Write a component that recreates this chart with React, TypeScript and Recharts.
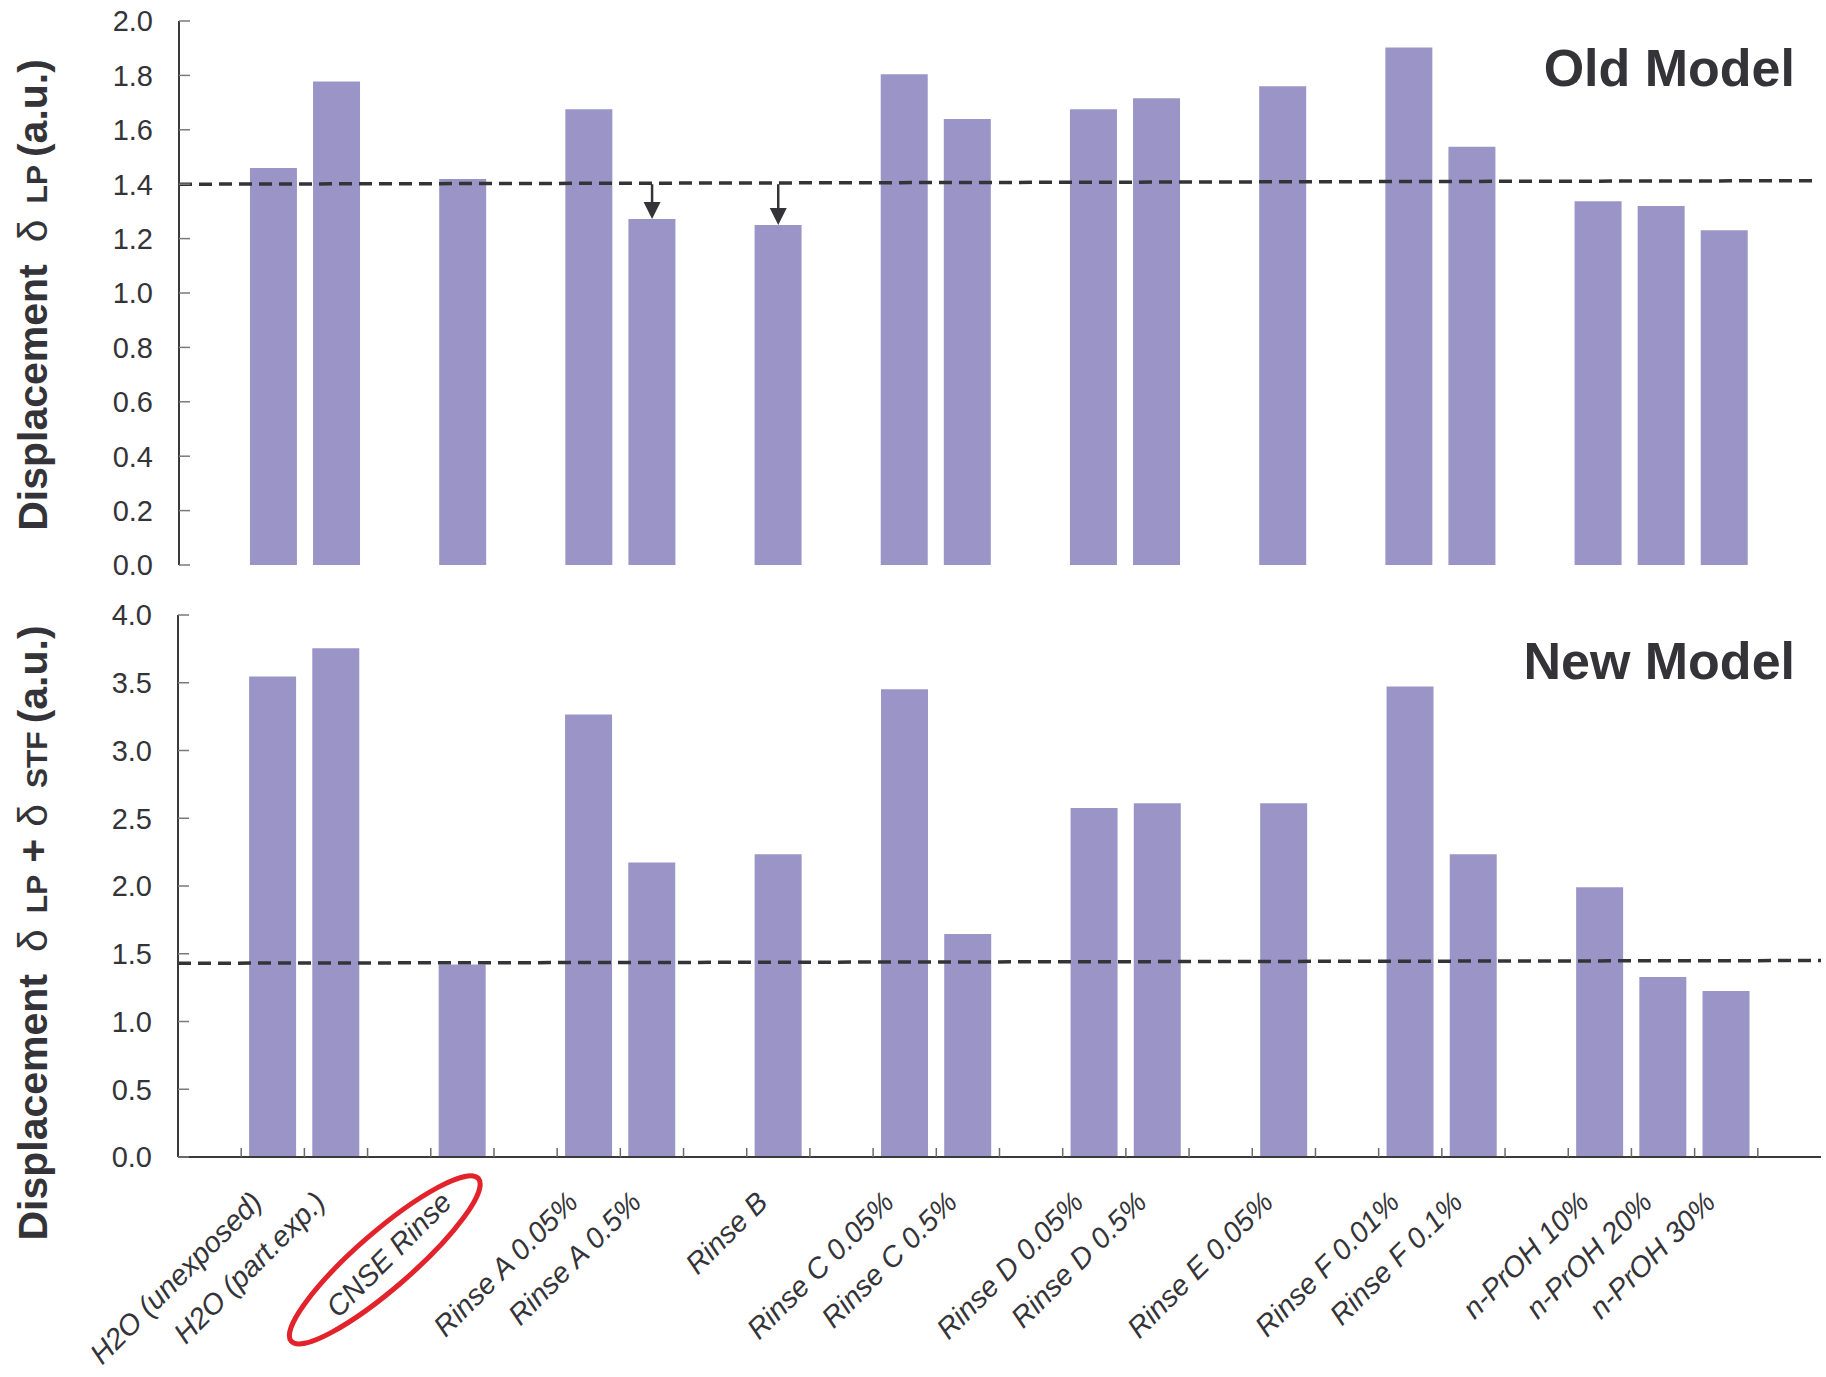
import React from "react";
import { Bar, BarChart, ReferenceDot, ReferenceLine, XAxis, YAxis } from "recharts";

// slots along the x axis, blanks are the gaps between groups
const categories = [
  "", "H2O (unexposed)", "H2O (part.exp.)", "", "CNSE Rinse", "",
  "Rinse A 0.05%", "Rinse A 0.5%", "", "Rinse B", "",
  "Rinse C 0.05%", "Rinse C 0.5%", "", "Rinse D 0.05%", "Rinse D 0.5%", "",
  "Rinse E 0.05%", "", "Rinse F 0.01%", "Rinse F 0.1%", "",
  "n-PrOH 10%", "n-PrOH 20%", "n-PrOH 30%", "",
];

const oldModel = [
  null, 1.46, 1.778, null, 1.419, null,
  1.676, 1.272, null, 1.25, null,
  1.804, 1.64, null, 1.676, 1.716, null,
  1.76, null, 1.903, 1.538, null,
  1.337, 1.32, 1.231, null,
];

const newModel = [
  null, 3.546, 3.754, null, 1.42, null,
  3.266, 2.174, null, 2.234, null,
  3.452, 1.646, null, 2.575, 2.61, null,
  2.61, null, 3.472, 2.234, null,
  1.99, 1.328, 1.225, null,
];

const oldTicks = [0, 0.2, 0.4, 0.6, 0.8, 1.0, 1.2, 1.4, 1.6, 1.8, 2.0];
const newTicks = [0, 0.5, 1.0, 1.5, 2.0, 2.5, 3.0, 3.5, 4.0];

// dashed reference level, value at left and right end of the plot
const oldLevel = [1.4, 1.413];
const newLevel = [1.43, 1.45];

const arrowTargets = ["Rinse A 0.5%", "Rinse B"];
const highlighted = "CNSE Rinse";

const W = 1826;
const BAR = "#9b95c7";
const INK = "#343438";
const FONT = '"Liberation Sans", Arial, Helvetica, sans-serif';

const rows = categories.map((name, i) => ({
  id: `c${i}`,
  name,
  slot: i + 0.5,
  oldModel: oldModel[i],
  newModel: newModel[i],
}));

const idOf = (name: string) => rows.find((r) => r.name === name)!.id;
const nameOf = (id: string) => rows.find((r) => r.id === id)?.name ?? "";

function YTick({ x, y, payload }: any) {
  return (
    <g>
      <line x1={x + 26} x2={x + 37} y1={y} y2={y} stroke="#7a7a7a" strokeWidth={1.5} />
      <text x={x} y={y} dy="0.36em" textAnchor="end" fontSize={29} fill={INK} fontFamily={FONT}>
        {Number(payload.value).toFixed(1)}
      </text>
    </g>
  );
}

function makeXTick(slotW: number, showLabels: boolean) {
  return ({ x, y, payload, index }: any) => {
    const label = nameOf(payload.value);
    return (
      <g>
        {index > 0 && (
          <line x1={x - slotW / 2} x2={x - slotW / 2} y1={y} y2={y - 9} stroke="#6a6a6a" strokeWidth={1.5} />
        )}
        {showLabels && label && (
          <g transform={`translate(${x - 9},${y + 47}) rotate(-45)`}>
            {label === highlighted && (
              <ellipse
                cx={-88}
                cy={-9}
                rx={124}
                ry={28}
                transform="rotate(4 -88 -9)"
                fill="none"
                stroke="#e3232b"
                strokeWidth={5}
              />
            )}
            <text textAnchor="end" fontSize={29} fontStyle="italic" fill={INK} fontFamily={FONT}>
              {label}
            </text>
          </g>
        )}
      </g>
    );
  };
}

function AxisTitle({ viewBox, sub, shift = 0 }: any) {
  const cy = viewBox.y + viewBox.height / 2 + shift;
  const bx = 47;
  return (
    <text
      transform={`translate(${bx},${cy}) rotate(-90)`}
      textAnchor="middle"
      fill={INK}
      fontFamily={FONT}
      fontWeight="bold"
      fontSize={41}
    >
      <tspan>Displacement</tspan>
      <tspan dx={22} fontWeight="normal">δ</tspan>
      <tspan dx={16} fontSize={30}>LP</tspan>
      {sub && (
        <>
          <tspan dx={12}>+</tspan>
          <tspan dx={12} fontWeight="normal">δ</tspan>
          <tspan dx={16} fontSize={30}>STF</tspan>
        </>
      )}
      <tspan dx={8}>(a.u.)</tspan>
    </text>
  );
}

function Arrow({ cx, cy }: any) {
  return <path d={`M${cx - 8.5},${cy - 17} L${cx + 8.5},${cy - 17} L${cx},${cy} Z`} fill={INK} />;
}

function ModelTag({ text, baseline }: { text: string; baseline: number }) {
  return (
    <svg width={W} height={120} style={{ position: "absolute", left: 0, top: 0, pointerEvents: "none" }}>
      <text x={1795} y={baseline} textAnchor="end" fontSize={52} fontWeight="bold" fill={INK} fontFamily={FONT}>
        {text}
      </text>
    </svg>
  );
}

function OldModelChart() {
  const slotW = (1819 - 179) / categories.length;
  return (
    <div style={{ position: "absolute", left: 0, top: 0, width: W, height: 590 }}>
      <BarChart width={W} height={590} data={rows} margin={{ top: 21, right: 7, bottom: 25, left: 0 }} barCategoryGap="12.5%">
        <XAxis
          xAxisId="cat"
          dataKey="id"
          height={0}
          interval={0}
          tickSize={0}
          tickMargin={0}
          tickLine={false}
          axisLine={{ stroke: "#3a3a3a", strokeWidth: 2 }}
          tick={makeXTick(slotW, false)}
        />
        <XAxis xAxisId="num" type="number" dataKey="slot" domain={[0, categories.length]} allowDataOverflow hide />
        <XAxis xAxisId="frame" orientation="top" dataKey="id" height={0} tick={false} tickLine={false} axisLine={{ stroke: "#8c8c8c", strokeWidth: 2 }} />
        <YAxis
          yAxisId="val"
          width={179}
          domain={[0, 2]}
          ticks={oldTicks}
          interval={0}
          tickSize={0}
          tickMargin={26}
          tickLine={false}
          axisLine={{ stroke: "#3a3a3a", strokeWidth: 2 }}
          tick={<YTick />}
          label={<AxisTitle sub={false} shift={2} />}
        />
        <YAxis yAxisId="frame" orientation="right" width={0} tick={false} tickLine={false} axisLine={{ stroke: "#6a6a6a", strokeWidth: 2 }} />
        <Bar xAxisId="cat" yAxisId="val" dataKey="oldModel" fill={BAR} isAnimationActive={false} />
        <ReferenceLine
          xAxisId="num"
          yAxisId="val"
          segment={[{ x: 0, y: oldLevel[0] }, { x: categories.length, y: oldLevel[1] }]}
          stroke={INK}
          strokeWidth={3.5}
          strokeDasharray="13 7"
        />
        {arrowTargets.map((name) => {
          const id = idOf(name);
          const v = oldModel[categories.indexOf(name)] as number;
          return (
            <React.Fragment key={name}>
              <ReferenceLine
                xAxisId="cat"
                yAxisId="val"
                segment={[{ x: id, y: oldLevel[0] }, { x: id, y: v + 0.03 }]}
                stroke={INK}
                strokeWidth={2.5}
              />
              <ReferenceDot xAxisId="cat" yAxisId="val" x={id} y={v} shape={<Arrow />} />
            </React.Fragment>
          );
        })}
      </BarChart>
      <ModelTag text="Old Model" baseline={86} />
    </div>
  );
}

function NewModelChart() {
  const slotW = (1821 - 178) / categories.length;
  return (
    <div style={{ position: "absolute", left: 0, top: 590, width: W, height: 787 }}>
      <BarChart width={W} height={787} data={rows} margin={{ top: 25, right: 5, bottom: 0, left: 0 }} barCategoryGap="12.5%">
        <XAxis
          xAxisId="cat"
          dataKey="id"
          height={220}
          interval={0}
          tickSize={0}
          tickMargin={0}
          tickLine={false}
          axisLine={{ stroke: "#3a3a3a", strokeWidth: 2 }}
          tick={makeXTick(slotW, true)}
        />
        <XAxis xAxisId="num" type="number" dataKey="slot" domain={[0, categories.length]} allowDataOverflow hide />
        <XAxis xAxisId="frame" orientation="top" dataKey="id" height={0} tick={false} tickLine={false} axisLine={{ stroke: "#8c8c8c", strokeWidth: 2 }} />
        <YAxis
          yAxisId="val"
          width={178}
          domain={[0, 4]}
          ticks={newTicks}
          interval={0}
          tickSize={0}
          tickMargin={26}
          tickLine={false}
          axisLine={{ stroke: "#3a3a3a", strokeWidth: 2 }}
          tick={<YTick />}
          label={<AxisTitle sub shift={47} />}
        />
        <YAxis yAxisId="frame" orientation="right" width={0} tick={false} tickLine={false} axisLine={{ stroke: "#6a6a6a", strokeWidth: 2 }} />
        <Bar xAxisId="cat" yAxisId="val" dataKey="newModel" fill={BAR} isAnimationActive={false} />
        <ReferenceLine
          xAxisId="num"
          yAxisId="val"
          segment={[{ x: 0, y: newLevel[0] }, { x: categories.length, y: newLevel[1] }]}
          stroke={INK}
          strokeWidth={3.5}
          strokeDasharray="13 7"
        />
      </BarChart>
      <ModelTag text="New Model" baseline={89} />
    </div>
  );
}

export default function App() {
  return (
    <div style={{ position: "absolute", left: 0, top: 0, width: W, height: 1377, background: "#fff" }}>
      <OldModelChart />
      <NewModelChart />
    </div>
  );
}
